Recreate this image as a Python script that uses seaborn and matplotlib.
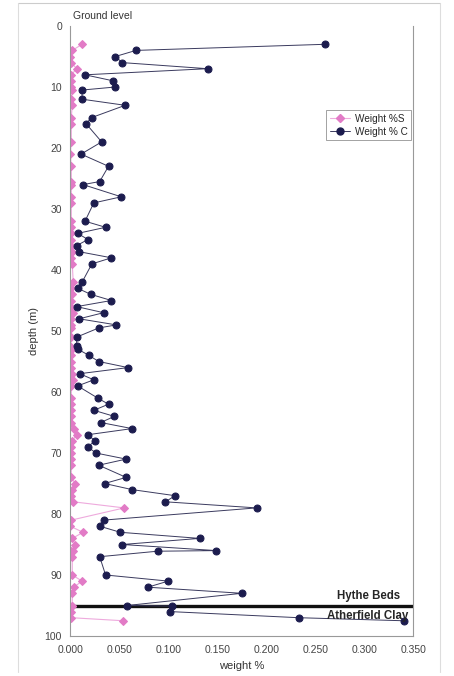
import matplotlib
matplotlib.use("Agg")
import matplotlib.pyplot as plt
import matplotlib.ticker as mticker
from matplotlib.lines import Line2D
import seaborn as sns
import pandas as pd

# depth of each sample (m), shared by both series
depth = [3, 4, 5, 6, 7, 8, 9, 10, 10.5, 12, 13, 15, 16, 19, 21, 23, 25.5, 26, 28, 29,
         32, 33, 34, 35, 36, 37, 38, 39, 42, 43, 44, 45, 46, 47, 48, 49, 49.5, 51, 52.5, 53,
         54, 55, 56, 57, 58, 59, 61, 62, 63, 64, 65, 66, 67, 68, 69, 70, 71, 72, 74, 75,
         76, 77, 78, 79, 81, 82, 83, 84, 85, 86, 86.1, 87, 90, 91, 92, 93, 95, 95.1, 96, 97,
         97.5]

weight_c = [0.260, 0.067, 0.046, 0.053, 0.140, 0.015, 0.044, 0.046, 0.012, 0.012, 0.056, 0.022,
            0.016, 0.032, 0.011, 0.039, 0.030, 0.013, 0.052, 0.024,
            0.015, 0.036, 0.0075, 0.018, 0.0065, 0.009, 0.042, 0.022, 0.012, 0.0075, 0.021, 0.042,
            0.0065, 0.034, 0.009, 0.047, 0.029, 0.0065, 0.0065, 0.008,
            0.019, 0.029, 0.059, 0.0095, 0.024, 0.0075, 0.028, 0.039, 0.024, 0.045, 0.031, 0.063,
            0.018, 0.025, 0.018, 0.026, 0.057, 0.029, 0.057, 0.035,
            0.063, 0.107, 0.097, 0.190, 0.034, 0.030, 0.051, 0.132, 0.053, 0.149, 0.089, 0.030,
            0.036, 0.100, 0.079, 0.175, 0.058, 0.104, 0.102, 0.233, 0.340]

weight_s = [0.012, 0.002, 0.000, 0.001, 0.0065, 0.001, 0.001, 0.001, 0.002, 0.001, 0.002, 0.001,
            0.001, 0.001, 0.000, 0.001, 0.001, 0.001, 0.001, 0.001,
            0.001, 0.001, 0.001, 0.001, 0.001, 0.002, 0.001, 0.002, 0.003, 0.001, 0.002, 0.001,
            0.001, 0.003, 0.001, 0.001, 0.001, 0.001, 0.000, 0.002,
            0.001, 0.001, 0.001, 0.002, 0.003, 0.001, 0.001, 0.001, 0.001, 0.001, 0.001, 0.004,
            0.0065, 0.002, 0.001, 0.001, 0.001, 0.001, 0.001, 0.005,
            0.002, 0.001, 0.003, 0.055, 0.001, 0.000, 0.013, 0.002, 0.005, 0.001, 0.003, 0.002,
            0.002, 0.012, 0.0035, 0.002, 0.002, 0.002, 0.001, 0.001, 0.054]

x_ticks = [0.0, 0.05, 0.10, 0.15, 0.20, 0.25, 0.30, 0.35]
y_ticks = list(range(0, 101, 10))
boundary_depth = 95

pink = "#e27bc6"
navy = "#1c1c4e"

df = pd.DataFrame({"depth": depth, "S": weight_s, "C": weight_c})

sns.set_style("white")
plt.rcParams["font.family"] = ["Liberation Sans", "DejaVu Sans"]

W, H = 454, 676
fig = plt.figure(figsize=(W / 100, H / 100), dpi=100)
ax = fig.add_axes([70.3 / W, 1 - 636 / H, (413.3 - 70.3) / W, 610 / H])

sns.lineplot(data=df, x="S", y="depth", sort=False, estimator=None, ax=ax,
             color="#eeaadd", linewidth=0.8, marker="D", markersize=3.8,
             markerfacecolor=pink, markeredgecolor=pink)
sns.lineplot(data=df, x="C", y="depth", sort=False, estimator=None, ax=ax,
             color="#3a3a5e", linewidth=0.7, marker="o", markersize=5,
             markerfacecolor=navy, markeredgecolor=navy)

ax.axhline(boundary_depth, color="#111111", linewidth=2.4, zorder=1)

ax.set_xlim(0, 0.35)
ax.set_ylim(100, 0)
ax.set_xticks(x_ticks)
ax.set_yticks(y_ticks)
ax.yaxis.set_minor_locator(mticker.MultipleLocator(2))
ax.xaxis.set_major_formatter(mticker.FormatStrFormatter("%.3f"))
ax.tick_params(axis="both", labelsize=7.5, colors="#444444", length=3, width=0.6)
ax.tick_params(axis="y", which="minor", length=3, width=0.5, direction="inout", colors="#999999")
ax.tick_params(axis="y", which="major", direction="inout", length=5)
ax.tick_params(axis="x", which="major", direction="out")

ax.spines["top"].set_visible(False)
for side in ["left", "bottom", "right"]:
    ax.spines[side].set_color("#999999")
    ax.spines[side].set_linewidth(0.8)

ax.set_xlabel("weight %", fontsize=8, color="#333333", labelpad=4)
ax.set_ylabel("depth (m)", fontsize=8, color="#333333", labelpad=4)

ax.text(0.003, -0.8, "Ground level", fontsize=7.5, color="#333333", va="bottom", ha="left")
ax.text(0.337, 94.5, "Hythe Beds", fontsize=8.3, fontweight="bold", ha="right", va="bottom")
ax.text(0.345, 95.7, "Atherfield Clay", fontsize=8.3, fontweight="bold", ha="right", va="top")

handles = [
    Line2D([], [], color="#eeaadd", linewidth=0.8, marker="D", markersize=3.8,
           markerfacecolor=pink, markeredgecolor=pink),
    Line2D([], [], color="#3a3a5e", linewidth=0.7, marker="o", markersize=5,
           markerfacecolor=navy, markeredgecolor=navy),
]
leg = ax.legend(handles, ["Weight %S", "Weight % C"], loc="upper right",
                bbox_to_anchor=((411 - 70.3) / 343, 1 - (110 - 26) / 610),
                fontsize=7.2, frameon=True, fancybox=False, borderpad=0.35,
                handlelength=2.0, handletextpad=0.5, labelspacing=0.3, borderaxespad=0)
leg.get_frame().set_edgecolor("#777777")
leg.get_frame().set_linewidth(0.6)

# outer page frame
fig.add_artist(Line2D([18 / W, 440 / W], [1 - 3 / H, 1 - 3 / H], color="#cccccc", linewidth=0.8))
fig.add_artist(Line2D([18 / W, 18 / W], [1 - 3 / H, 1 - 672 / H], color="#dddddd", linewidth=0.8))
fig.add_artist(Line2D([440 / W, 440 / W], [1 - 3 / H, 1 - 672 / H], color="#dddddd", linewidth=0.8))

fig.savefig("out.png", dpi=100)
